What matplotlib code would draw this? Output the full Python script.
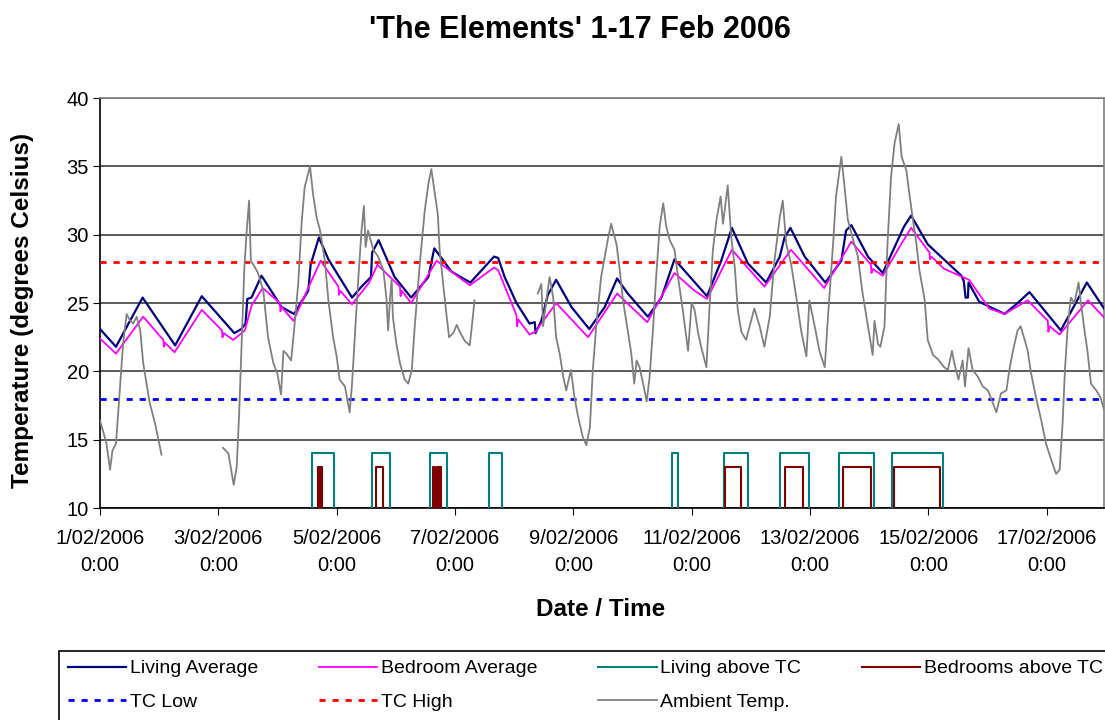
import matplotlib
matplotlib.use("Agg")
import matplotlib.pyplot as plt
from matplotlib.patches import Rectangle

plt.rcParams['font.family'] = ['Liberation Sans', 'DejaVu Sans']

# days after 1/02/2006 0:00
living_day = [0.00, 0.27, 0.72, 1.27, 1.72, 2.27, 2.39, 2.46, 2.49, 2.56, 2.73, 3.07, 3.28, 3.52, 3.56,
              3.70, 3.86, 4.26, 4.42, 4.58, 4.60, 4.71, 4.98, 5.26, 5.55, 5.65, 5.94, 6.26, 6.45, 6.66,
              6.73, 6.84, 7.04, 7.26, 7.35, 7.36, 7.46, 7.57, 7.71, 7.97, 8.27, 8.53, 8.74, 8.92, 9.26,
              9.49, 9.71, 10.26, 10.50, 10.68, 10.95, 11.26, 11.49, 11.57, 11.67, 11.91, 12.26, 12.53,
              12.61, 12.70, 12.98, 13.23, 13.59, 13.71, 13.99, 14.56, 14.60, 14.63, 14.67, 14.68, 14.86,
              15.29, 15.51, 15.71, 16.24, 16.68, 16.97]
living_avg = [23.1, 21.8, 25.4, 21.9, 25.5, 22.8, 23.1, 23.5, 25.3, 25.4, 27.0, 24.7, 24.2, 25.9, 27.8,
              29.8, 28.2, 25.4, 26.2, 26.9, 28.7, 29.6, 26.9, 25.4, 26.9, 29.0, 27.3, 26.5, 27.4, 28.4,
              28.3, 26.9, 25.0, 23.5, 23.6, 22.8, 23.7, 25.6, 26.7, 24.7, 23.1, 24.7, 26.8, 25.7, 24.0,
              25.4, 28.2, 25.5, 28.1, 30.5, 27.9, 26.5, 28.4, 29.8, 30.5, 28.4, 26.5, 28.1,
              30.3, 30.7, 28.4, 27.2, 30.6, 31.4, 29.3, 27.0, 26.6, 25.4, 25.4, 26.5, 25.1,
              24.2, 25.0, 25.8, 23.0, 26.5, 24.6]

bedroom_day = [0.00, 0.27, 0.73, 1.07, 1.08, 1.10, 1.26, 1.72, 2.06, 2.07, 2.09, 2.25, 2.45, 2.56, 2.75,
               3.04, 3.05, 3.07, 3.27, 3.55, 3.73, 4.03, 4.04, 4.06, 4.26, 4.55, 4.69, 5.07, 5.08, 5.10,
               5.26, 5.69, 6.25, 6.66, 6.73, 7.04, 7.05, 7.07, 7.26, 7.36, 7.71, 8.25, 8.74, 9.25, 9.71,
               10.05, 10.26, 10.68, 11.23, 11.68, 12.24, 12.70, 13.03, 13.04, 13.06, 13.23, 13.54, 13.71,
               14.02, 14.03, 14.05, 14.27, 14.69, 15.03, 15.29, 15.68, 16.02, 16.03, 16.05, 16.22, 16.70,
               16.98]
bedroom_avg = [22.4, 21.3, 24.0, 22.3, 21.8, 22.1, 21.4, 24.5, 23.0, 22.5, 22.8, 22.3, 23.0, 24.8, 26.1,
               25.0, 24.4, 24.7, 23.7, 26.4, 28.1, 26.2, 25.6, 25.9, 24.9, 26.5, 27.8, 26.2, 25.5, 25.9,
               25.0, 28.1, 26.3, 27.6, 27.4, 24.1, 23.3, 23.8, 22.7, 22.9, 25.0, 22.5, 25.7, 23.6, 27.2,
               25.9, 25.3, 28.9, 26.2, 28.9, 26.1, 29.5, 27.8, 27.2, 27.5, 27.0, 29.3, 30.5,
               28.7, 28.2, 28.4, 27.5, 26.7, 24.6, 24.2, 25.2, 23.7, 22.9, 23.3, 22.7, 25.2,
               23.9]

nan = float('nan')
ambient_day = [0.00, 0.06, 0.11, 0.17, 0.21, 0.27, 0.32, 0.39, 0.45, 0.51, 0.56, 0.62, 0.68, 0.73, 0.84,
               0.93, 1.04, 1.50,
               2.08, 2.17, 2.26, 2.31, 2.35, 2.39, 2.44, 2.48, 2.52, 2.55, 2.62, 2.67, 2.76, 2.84, 2.93,
               3.00, 3.06, 3.10, 3.15, 3.23, 3.28, 3.35, 3.41, 3.46, 3.55, 3.60, 3.66, 3.72, 3.80, 3.86,
               3.94, 4.00, 4.05, 4.14, 4.22, 4.26, 4.31, 4.36, 4.42, 4.46, 4.49, 4.53, 4.62, 4.70, 4.79,
               4.84, 4.87, 4.90, 4.93, 4.95, 5.01, 5.07, 5.15, 5.21, 5.27, 5.32, 5.41, 5.49, 5.55, 5.60,
               5.66, 5.71, 5.74, 5.80, 5.86, 5.90, 5.97, 6.03, 6.08, 6.17, 6.25, 6.29, 6.33, 6.80,
               7.40, 7.46, 7.49, 7.55, 7.60, 7.66, 7.71, 7.77, 7.83, 7.88, 7.96, 8.02, 8.08, 8.16, 8.22,
               8.28, 8.33, 8.39, 8.47, 8.59, 8.64, 8.73, 8.78, 8.84, 8.92, 8.98, 9.03, 9.07, 9.12, 9.18,
               9.24, 9.29, 9.35, 9.40, 9.46, 9.52, 9.57, 9.63, 9.71, 9.77, 9.85, 9.94, 10.00, 10.05,
               10.11, 10.16, 10.25, 10.30, 10.36, 10.42, 10.49, 10.53, 10.61, 10.67, 10.73, 10.78, 10.84,
               10.92, 10.98, 11.06, 11.15, 11.23, 11.32, 11.40, 11.49, 11.54, 11.60, 11.68, 11.77, 11.85,
               11.94, 11.99, 12.08, 12.16, 12.25, 12.30, 12.39, 12.44, 12.53, 12.58, 12.64, 12.72, 12.81,
               12.89, 12.98, 13.06, 13.09, 13.15, 13.19, 13.26, 13.31, 13.37, 13.43, 13.50, 13.55, 13.63,
               13.68, 13.74, 13.80, 13.85, 13.94, 13.99, 14.08, 14.16, 14.27, 14.33, 14.40, 14.44, 14.51,
               14.58, 14.62, 14.68, 14.75, 14.84, 14.92, 15.01, 15.09, 15.15, 15.23, 15.32, 15.37, 15.43,
               15.51, 15.56, 15.63, 15.68, 15.74, 15.82, 15.91, 15.99, 16.08, 16.16, 16.22, 16.27, 16.31,
               16.36, 16.41, 16.47, 16.54, 16.58, 16.64, 16.69, 16.75, 16.84, 16.91, 16.97]
ambient_temp = [16.4, 15.5, 14.7, 12.8, 14.2, 14.7, 17.7, 22.0, 24.2, 23.7, 23.5, 24.0, 23.0, 20.6, 17.7,
                16.2, 13.9, nan,
                14.4, 14.0, 11.7, 13.0, 16.7, 21.5, 27.6, 30.3, 32.5, 28.1, 27.6, 27.2, 25.9, 22.5, 20.6,
                19.8, 18.3, 21.5, 21.3, 20.8, 23.0, 26.4, 31.0, 33.5, 35.0, 33.0, 31.3, 30.3, 28.1, 25.2,
                22.5, 21.1, 19.4, 18.9, 17.0, 19.1, 22.8, 26.4, 30.3, 32.1, 29.1, 30.3, 28.9, 28.4, 27.4,
                25.4, 23.0, 25.2, 26.8, 24.0, 22.0, 20.6, 19.4, 19.1, 20.1, 23.3, 28.1, 31.8, 33.7, 34.8,
                33.0, 31.5, 28.9, 26.4, 24.0, 22.5, 22.8, 23.4, 22.9, 22.2, 21.9, 23.5, 25.2, nan,
                25.7, 26.4, 23.3, 25.4, 26.9, 25.4, 22.5, 21.3, 19.6, 18.6, 20.1, 18.1, 16.7, 15.2, 14.6,
                15.9, 20.1, 23.5, 26.9, 29.8, 30.8, 29.3, 27.6, 25.2, 23.0, 21.3, 19.1, 20.8, 20.3, 19.1,
                17.8, 19.6, 23.3, 26.9, 30.6, 32.3, 30.6, 29.6, 28.9, 26.9, 24.5, 21.5, 25.0, 24.5,
                22.8, 21.8, 20.3, 24.5, 28.9, 31.1, 32.8, 30.8, 33.6, 29.8, 27.6, 24.5, 22.9,
                22.3, 23.3, 24.6, 23.3, 21.8, 24.0, 28.1, 31.3, 32.5, 29.3, 27.9, 25.4, 23.0,
                21.1, 25.2, 23.3, 21.5, 20.3, 23.7, 29.3, 32.8, 35.7, 33.7, 31.1, 29.8, 28.4,
                25.7, 23.3, 21.2, 23.7, 22.0, 21.8, 23.3, 29.3, 34.2, 36.7, 38.1, 35.7, 34.7,
                33.0, 31.1, 29.3, 27.4, 25.2, 22.3, 21.2, 20.9, 20.3, 20.1, 21.5, 20.6, 19.4,
                20.8, 18.9, 21.7, 20.1, 19.6, 18.9, 18.6, 17.7, 17.0, 18.4, 18.6, 20.1, 21.5,
                23.0, 23.3, 22.3, 21.5, 19.8, 18.1, 16.4, 14.7, 13.5, 12.5, 12.8, 16.2, 20.1,
                23.5, 25.4, 25.0, 26.5, 25.0, 23.0, 21.5, 19.1, 18.6, 18.1, 17.2]

# periods above thermal comfort (start, end) in days
living_tc_start = [3.59, 4.59, 5.58, 6.58, 9.66, 10.55, 11.49, 12.49, 13.38]
living_tc_end = [3.96, 4.90, 5.86, 6.79, 9.77, 10.95, 11.98, 13.09, 14.25]
bedroom_tc_start = [3.69, 3.72, 4.66, 5.63, 5.70, 5.74, 10.57, 11.57, 12.55, 13.42]
bedroom_tc_end = [3.715, 3.76, 4.79, 5.66, 5.73, 5.76, 10.83, 11.88, 13.04, 14.19]
living_tc_level = 14
bedroom_tc_level = 13
tc_low = 18
tc_high = 28

x_ticks = [0, 2, 4, 6, 8, 10, 12, 14, 16]
x_tick_labels = ["1/02/2006\n0:00", "3/02/2006\n0:00", "5/02/2006\n0:00", "7/02/2006\n0:00",
                 "9/02/2006\n0:00", "11/02/2006\n0:00", "13/02/2006\n0:00", "15/02/2006\n0:00",
                 "17/02/2006\n0:00"]


def pulses(starts, ends, level):
    xs, ys = [], []
    for s, e in zip(starts, ends):
        xs += [s, s, e, e]
        ys += [0, level, level, 0]
    return xs, ys


fig = plt.figure(figsize=(11.05, 7.2), dpi=100)
ax = fig.add_axes([0.0905, 0.2944, 0.9086, 0.5694])

l1, = ax.plot(living_day, living_avg, color="#000080", lw=1.6, label="Living Average", zorder=3)
l2, = ax.plot(bedroom_day, bedroom_avg, color="#FF00FF", lw=1.3, label="Bedroom Average", zorder=3)
px, py = pulses(living_tc_start, living_tc_end, living_tc_level)
l3, = ax.plot(px, py, color="#008080", lw=1.5, label="Living above TC", zorder=3)
px, py = pulses(bedroom_tc_start, bedroom_tc_end, bedroom_tc_level)
l4, = ax.plot(px, py, color="#800000", lw=1.5, label="Bedrooms above TC", zorder=3)
l5 = ax.axhline(tc_low, color="#0000FF", lw=2, ls=(0, (2.2, 2.5)), label="TC Low", zorder=3)
l6 = ax.axhline(tc_high, color="#FF0000", lw=2, ls=(0, (2.2, 2.5)), label="TC High", zorder=3)
l7, = ax.plot(ambient_day, ambient_temp, color="#808080", lw=1.3, label="Ambient Temp.", zorder=4)

ax.set_xlim(0, 16.97)
ax.set_ylim(10, 40)
ax.set_yticks(range(10, 41, 5))
ax.set_xticks(x_ticks)
ax.set_xticklabels(x_tick_labels, fontsize=14.5, linespacing=1.55)
ax.tick_params(axis='y', labelsize=14.5, length=5, pad=3, direction='out')
ax.tick_params(axis='x', length=5, pad=10, direction='out')
ax.grid(axis='y', color='#404040', lw=1.2, zorder=1)
ax.set_axisbelow(True)
for side in ['top', 'right']:
    ax.spines[side].set_color('#808080')
    ax.spines[side].set_linewidth(1.2)
for side in ['left', 'bottom']:
    ax.spines[side].set_color('black')
    ax.spines[side].set_linewidth(1.2)

fig.text(0.525, 0.959, "'The Elements' 1-17 Feb 2006", ha='center', va='center',
         fontsize=22, fontweight='bold')
fig.text(0.544, 0.154, "Date / Time", ha='center', va='center', fontsize=17.5, fontweight='bold')
fig.text(0.020, 0.569, "Temperature (degrees Celsius)", ha='center', va='center', rotation=90,
         fontsize=17.5, fontweight='bold')

# legend box runs off the right and bottom edges, as in the original
fig.patches.append(Rectangle((59 / 1105, -0.1), 1.2, 0.1 + 1 - 651 / 720, transform=fig.transFigure,
                             fill=False, edgecolor='black', lw=1.2))
handles = [l1, l5, l2, l6, l3, l7, l4]
leg = fig.legend(handles=handles, labels=[h.get_label() for h in handles], ncol=4,
                 loc='upper left', bbox_to_anchor=(63 / 1105, 1 - 655 / 720, 1045 / 1105, 0.0),
                 mode='expand', fontsize=14, frameon=False,
                 handlelength=3.0, handletextpad=0.2, borderaxespad=0, borderpad=0.25,
                 labelspacing=0.8, columnspacing=1.0)

fig.savefig("out.png", dpi=100)
